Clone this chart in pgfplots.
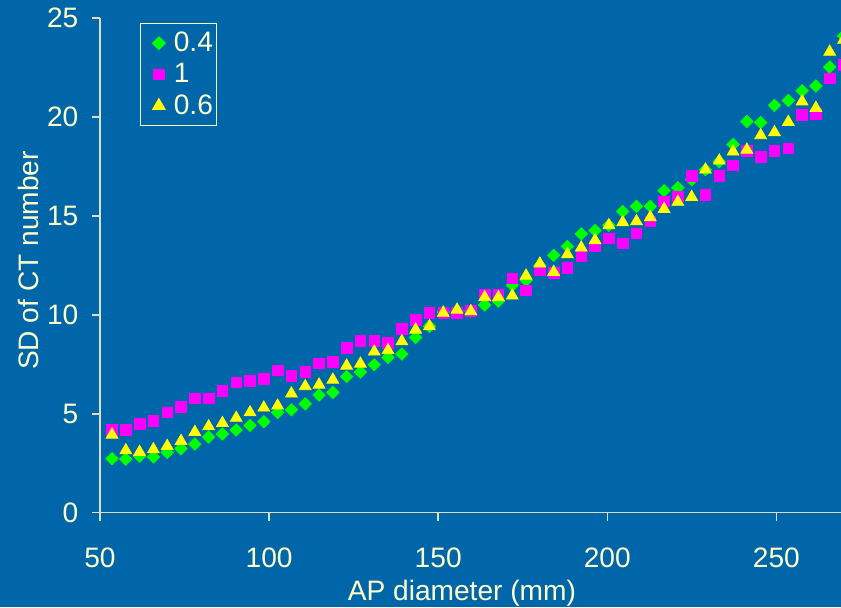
\documentclass[border=0pt]{standalone}
\usepackage{fontspec}
\setmainfont{Liberation Sans}
\usepackage{pgfplots}
\usepackage{pgfplotstable}
\pgfplotsset{compat=1.18}
\definecolor{bg}{RGB}{0,102,170}
\definecolor{cream}{RGB}{255,255,204}
\definecolor{axisc}{RGB}{220,222,200}
\definecolor{mgreen}{RGB}{0,255,0}
\definecolor{mmag}{RGB}{255,0,255}
\definecolor{myel}{RGB}{255,255,0}
\pgfplotstableread{
x g m y
53.55 2.73 4.20 3.94
57.63 2.71 4.20 3.15
61.71 2.85 4.48 3.07
65.79 2.82 4.65 3.20
69.87 3.05 5.07 3.37
73.96 3.24 5.34 3.62
78.04 3.47 5.78 4.08
82.12 3.83 5.78 4.36
86.20 3.98 6.15 4.53
90.28 4.18 6.59 4.79
94.36 4.41 6.66 5.07
98.44 4.60 6.76 5.31
102.52 5.07 7.19 5.41
106.60 5.20 6.93 6.02
110.68 5.50 7.11 6.39
114.77 5.95 7.55 6.47
118.85 6.08 7.62 6.72
122.93 6.88 8.33 7.43
127.01 7.11 8.68 7.53
131.09 7.48 8.68 8.14
135.17 7.85 8.58 8.21
139.25 8.02 9.30 8.66
143.33 8.86 9.74 9.25
147.41 9.42 10.10 9.42
151.49 10.15 10.10 10.10
155.57 10.20 10.10 10.26
159.66 10.20 10.21 10.18
163.74 10.50 11.02 10.89
167.82 10.70 11.02 10.89
171.90 11.50 11.85 10.97
175.98 11.75 11.24 11.98
180.06 12.50 12.25 12.59
184.14 13.01 12.12 12.17
188.22 13.46 12.39 13.06
192.30 14.10 12.96 13.40
196.38 14.27 13.46 13.77
200.47 14.53 13.87 14.53
204.55 15.23 13.62 14.68
208.63 15.49 14.12 14.73
212.71 15.49 14.73 14.93
216.79 16.28 15.74 15.35
220.87 16.43 15.99 15.71
224.95 16.84 17.04 15.96
229.03 17.34 16.08 17.34
233.11 17.75 17.04 17.80
237.19 18.62 17.56 18.25
241.27 19.78 18.30 18.35
245.36 19.73 18.00 19.08
249.44 20.59 18.29 19.23
253.52 20.84 18.43 19.75
257.60 21.33 20.12 20.79
261.68 21.57 20.17 20.46
265.76 22.53 21.96 23.30
269.84 24.10 22.63 23.90
}\datatable
\begin{document}
\begin{tikzpicture}
\useasboundingbox (0,0) rectangle (16.82,12.14);
\clip (0,0) rectangle (16.82,12.14);
\fill[bg] (0,0) rectangle (16.82,12.14);
\begin{axis}[
  at={(2cm,1.886cm)}, anchor=south west,
  scale only axis, width=15.016cm, height=9.89cm,
  xmin=50, xmax=272, ymin=0, ymax=25,
  axis x line=bottom, axis y line=left,
  axis line style={-, draw=axisc, line width=0.9pt},
  tick align=outside, major tick length=0.16cm,
  tick style={draw=axisc, line width=0.9pt},
  xtick={50,100,150,200,250}, ytick={0,5,10,15,20,25},
  minor tick num=0,
  /pgf/number format/assume math mode=true,
  ticklabel style={font=\fontsize{16}{19}\selectfont, text=cream},
  xticklabel style={yshift=-0.42cm},
  yticklabel style={xshift=-0.15cm},
  label style={font=\fontsize{16}{19}\selectfont, text=cream},
  xlabel={AP diameter (mm)}, ylabel={SD of CT number},
  xlabel style={at={(axis description cs:0.482,-0.163)}, anchor=center},
  ylabel style={at={(axis description cs:-0.095,0.51)}, anchor=center},
  legend style={at={(axis description cs:0.0533,0.991)}, anchor=north west,
    draw=cream, fill=none, text=cream, font=\fontsize{16}{19}\selectfont,
    line width=0.7pt, inner xsep=1pt, inner ysep=3pt, row sep=1.2pt,
    nodes={inner xsep=1pt}},
  /tikz/every odd column/.append style={column sep=0.14cm},
  legend image code/.code={\path[draw=none] (0cm,0cm) -- (0.45cm,0cm); \draw[#1] plot coordinates {(0.33cm,0cm)};},
  legend cell align=left,
]
\addplot[only marks, mark=square*, mark size=2.5pt, mark options={rotate=45, draw=mgreen, fill=mgreen}] table[x=x,y=g]{\datatable};
\addlegendentry{0.4}
\addplot[only marks, mark=square*, mark size=3.0pt, mark options={draw=mmag, fill=mmag}] table[x=x,y=m]{\datatable};
\addlegendentry{1}
\addplot[only marks, mark=triangle*, mark size=3.9pt, mark options={draw=myel, fill=myel}] table[x=x,y=y]{\datatable};
\addlegendentry{0.6}
\end{axis}
\end{tikzpicture}
\end{document}
